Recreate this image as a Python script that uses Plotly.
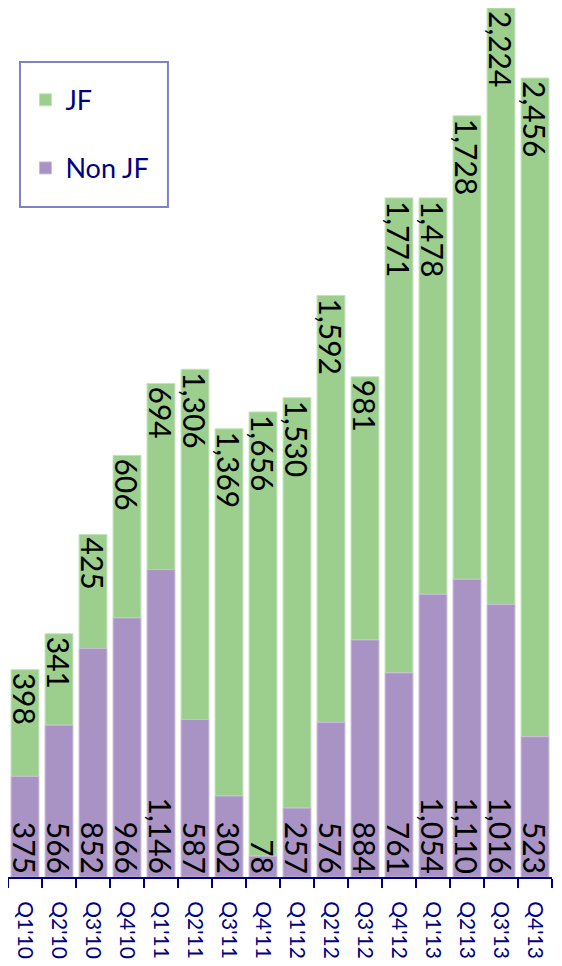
import plotly.graph_objects as go

# quarters and values
quarters = ["Q1'10", "Q2'10", "Q3'10", "Q4'10", "Q1'11", "Q2'11", "Q3'11", "Q4'11",
            "Q1'12", "Q2'12", "Q3'12", "Q4'12", "Q1'13", "Q2'13", "Q3'13", "Q4'13"]
non_jf = [375, 566, 852, 966, 1146, 587, 302, 78, 257, 576, 884, 761, 1054, 1110, 1016, 523]
jf = [398, 341, 425, 606, 694, 1306, 1369, 1656, 1530, 1592, 981, 1771, 1478, 1728, 2224, 2456]

navy = "#000080"
label_font = dict(family="Lato, Open Sans, sans-serif", size=30, color="black")

fig = go.Figure()
# JF sits on top of Non JF; drawn first so the Non JF labels stay visible
fig.add_trace(go.Bar(x=quarters, y=jf, base=non_jf, name="JF", legendgroup="a", legendrank=1,
                     marker=dict(color="#9CCF8E", line=dict(color="#C3E3BA", width=1)),
                     texttemplate="%{customdata:,}", customdata=jf,
                     textposition="inside", insidetextanchor="end",
                     textangle=90, constraintext="none", textfont=label_font))
fig.add_trace(go.Bar(x=quarters, y=non_jf, name="Non JF", legendgroup="b", legendrank=2,
                     marker=dict(color="#A992C4", line=dict(color="#C9BCDB", width=1)),
                     texttemplate="%{y:,}", textposition="inside", insidetextanchor="start",
                     textangle=90, constraintext="none", textfont=label_font))

# legend frame
fig.add_shape(type="rect", xref="paper", yref="paper", x0=0.022, x1=0.294, y0=0.771, y1=0.938,
              line=dict(color="#8080C8", width=2), fillcolor="white", layer="above")

fig.update_layout(
    barmode="overlay", bargap=0.18,
    width=562, height=966,
    margin=dict(l=0, r=18, t=0, b=97),
    paper_bgcolor="white", plot_bgcolor="white",
    font=dict(family="Lato, Open Sans, sans-serif", color=navy),
    showlegend=True,
    legend=dict(x=0.032, y=0.922, xanchor="left", yanchor="top",
                bgcolor="rgba(0,0,0,0)", borderwidth=0,
                traceorder="grouped", tracegroupgap=30,
                font=dict(size=27, color=navy), itemwidth=30),
    uniformtext=dict(mode="show", minsize=30),
)
fig.update_xaxes(showline=True, linecolor=navy, linewidth=2, ticks="outside",
                 tickson="boundaries", ticklen=9, tickwidth=2, tickcolor=navy,
                 tickangle=90, tickfont=dict(size=21, color=navy), showgrid=False,
                 ticklabelstandoff=18, automargin=False)
fig.update_yaxes(visible=False, range=[0, 3240], showgrid=False, automargin=False)

fig.write_html("out.html")
